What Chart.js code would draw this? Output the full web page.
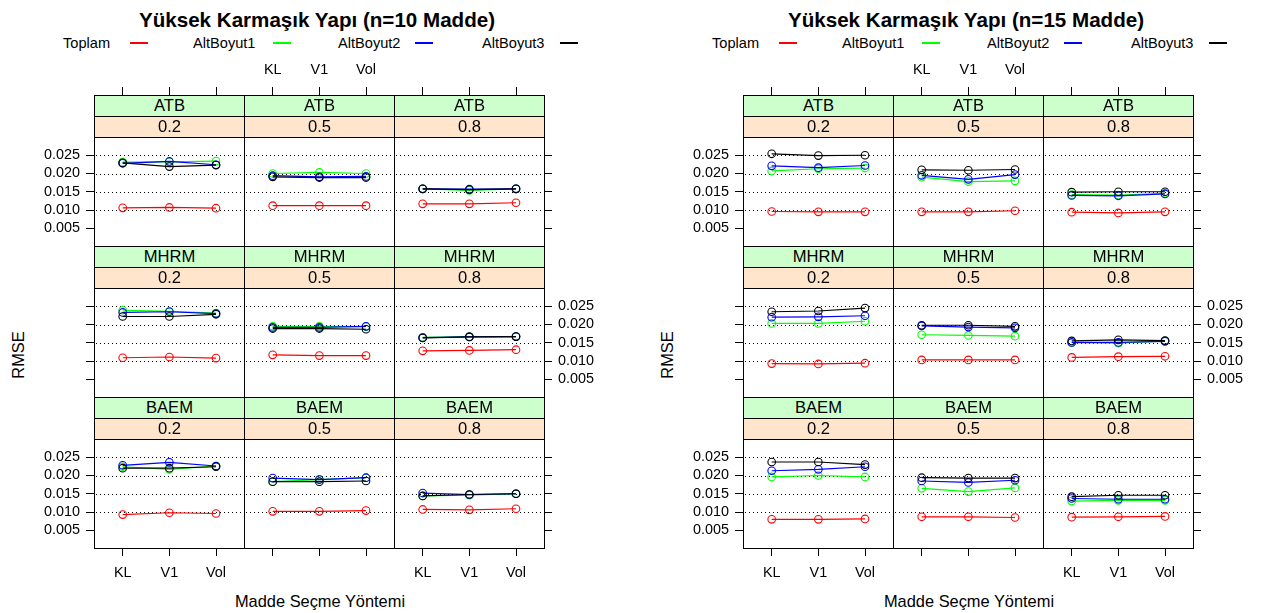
<!DOCTYPE html>
<html>
<head>
<meta charset="utf-8">
<script src="https://cdn.jsdelivr.net/npm/chart.js@4.4.1/dist/chart.umd.min.js"></script>
<style>
  html, body { margin: 0; padding: 0; background: #fff; }
  body { width: 1262px; height: 613px; overflow: hidden; position: relative;
         font-family: "Liberation Sans", Arial, sans-serif; color: #000; }
  canvas.cell { position: absolute; z-index: 1; }
  .txt { position: absolute; white-space: nowrap; transform: translate(-50%, -50%); line-height: 1; }
  .strip { position: absolute; box-sizing: border-box; border-bottom: 1px solid #000;
           text-align: center; z-index: 2; font-size: 16.6px; }
  .keyline { position: absolute; height: 2px; }
</style>
</head>
<body>
<script>
// Categories, panel factors and series
const categories = ['KL', 'V1', 'Vol'];
const methods = ['ATB', 'MHRM', 'BAEM'];
const levels = ['0.2', '0.5', '0.8'];
const seriesNames = ['Toplam', 'AltBoyut1', 'AltBoyut2', 'AltBoyut3'];
const seriesColors = ['#ff0000', '#00ff00', '#0000ff', '#000000'];
const yTickValues = [0.005, 0.010, 0.015, 0.020, 0.025];
const refLineValues = [0.010, 0.015, 0.020, 0.025];

// RMSE per panel (KL, V1, Vol); panels: ATB 0.2/0.5/0.8, MHRM 0.2/0.5/0.8, BAEM 0.2/0.5/0.8
// n = 10 items
const n10_toplam = [
  [0.0106, 0.0107, 0.0105], [0.0112, 0.0112, 0.0112], [0.0117, 0.0117, 0.0120],
  [0.0109, 0.0111, 0.0108], [0.0117, 0.0115, 0.0115], [0.0128, 0.0129, 0.0131],
  [0.0093, 0.0098, 0.0096], [0.0102, 0.0102, 0.0104], [0.0107, 0.0106, 0.0109]
];
const n10_alt1 = [
  [0.0231, 0.0232, 0.0234], [0.0200, 0.0203, 0.0200], [0.0158, 0.0154, 0.0158],
  [0.0239, 0.0236, 0.0231], [0.0195, 0.0195, 0.0194], [0.0165, 0.0167, 0.0167],
  [0.0224, 0.0217, 0.0226], [0.0183, 0.0189, 0.0194], [0.0144, 0.0146, 0.0150]
];
const n10_alt2 = [
  [0.0228, 0.0233, 0.0224], [0.0194, 0.0191, 0.0192], [0.0158, 0.0157, 0.0158],
  [0.0233, 0.0235, 0.0230], [0.0192, 0.0192, 0.0195], [0.0164, 0.0166, 0.0167],
  [0.0228, 0.0236, 0.0226], [0.0193, 0.0189, 0.0194], [0.0152, 0.0148, 0.0150]
];
const n10_alt3 = [
  [0.0229, 0.0219, 0.0223], [0.0191, 0.0189, 0.0189], [0.0158, 0.0156, 0.0158],
  [0.0222, 0.0222, 0.0228], [0.0189, 0.0189, 0.0187], [0.0163, 0.0166, 0.0167],
  [0.0220, 0.0220, 0.0224], [0.0183, 0.0183, 0.0185], [0.0144, 0.0148, 0.0150]
];
// n = 15 items
const n15_toplam = [
  [0.0096, 0.0095, 0.0095], [0.0095, 0.0095, 0.0098], [0.0094, 0.0092, 0.0095],
  [0.0093, 0.0092, 0.0094], [0.0103, 0.0103, 0.0103], [0.0110, 0.0112, 0.0113],
  [0.0080, 0.0080, 0.0081], [0.0087, 0.0087, 0.0085], [0.0086, 0.0087, 0.0088]
];
const n15_alt1 = [
  [0.0207, 0.0213, 0.0215], [0.0190, 0.0178, 0.0180], [0.0142, 0.0141, 0.0146],
  [0.0203, 0.0203, 0.0209], [0.0172, 0.0170, 0.0168], [0.0150, 0.0149, 0.0155],
  [0.0196, 0.0200, 0.0196], [0.0165, 0.0156, 0.0166], [0.0130, 0.0132, 0.0132]
];
const n15_alt2 = [
  [0.0221, 0.0216, 0.0222], [0.0195, 0.0184, 0.0197], [0.0140, 0.0139, 0.0144],
  [0.0220, 0.0221, 0.0224], [0.0196, 0.0193, 0.0191], [0.0151, 0.0151, 0.0154],
  [0.0213, 0.0217, 0.0224], [0.0185, 0.0181, 0.0187], [0.0137, 0.0135, 0.0135]
];
const n15_alt3 = [
  [0.0254, 0.0249, 0.0250], [0.0210, 0.0209, 0.0211], [0.0149, 0.0150, 0.0150],
  [0.0235, 0.0237, 0.0245], [0.0198, 0.0198, 0.0195], [0.0155, 0.0158, 0.0156],
  [0.0237, 0.0237, 0.0230], [0.0194, 0.0193, 0.0193], [0.0142, 0.0146, 0.0146]
];

const figures = [
  { x0: 94,  title: 'Yüksek Karmaşık Yapı (n=10 Madde)', series: [n10_toplam, n10_alt1, n10_alt2, n10_alt3] },
  { x0: 743, title: 'Yüksek Karmaşık Yapı (n=15 Madde)', series: [n15_toplam, n15_alt1, n15_alt2, n15_alt3] }
];

// Panel geometry
const CW = 150, CH = 151, Y0 = 95, STRIP = 21;
const ML = 70, MR = 70, MT = 40, MB = 45;
const X_MIN = -0.615, X_MAX = 2.6;
const Y_MIN = 0.00015, Y_MAX = 0.0415;
const FONT = '"Liberation Sans", Arial, sans-serif';
const tickFont = { family: FONT, size: 14.4 };
// key: text start and line start, relative to the figure's left panel edge
const keyTextX = [-31, 99, 244, 388];
const keyLineX = [36, 179, 321, 466];

Chart.defaults.font.family = FONT;

const refLinePlugin = {
  id: 'refLines',
  beforeDatasetsDraw(chart) {
    const { ctx, chartArea, scales } = chart;
    const y = scales.y;
    ctx.save();
    ctx.setLineDash([1, 3]);
    ctx.strokeStyle = '#000';
    ctx.lineWidth = 1;
    refLineValues.forEach(v => {
      const py = Math.round(y.getPixelForValue(v)) + 0.5;
      ctx.beginPath();
      ctx.moveTo(chartArea.left + 2, py);
      ctx.lineTo(chartArea.right - 1, py);
      ctx.stroke();
    });
    ctx.restore();
  }
};

function xAxis(position, ticksOn, labelsOn, size) {
  return {
    type: 'linear', position, min: X_MIN, max: X_MAX,
    afterBuildTicks: s => { s.ticks = categories.map((_, i) => ({ value: i })); },
    afterFit: s => { s.height = size; },
    grid: { display: true, drawOnChartArea: false, drawTicks: ticksOn, tickLength: 8, tickColor: '#000', tickWidth: 1 },
    border: { display: true, color: '#000', width: 1 },
    ticks: { display: labelsOn, autoSkip: false, maxRotation: 0, minRotation: 0, padding: 8, color: '#000', font: tickFont,
             callback: v => categories[v] }
  };
}

function yAxis(position, ticksOn, labelsOn, size) {
  return {
    type: 'linear', position, min: Y_MIN, max: Y_MAX,
    afterBuildTicks: s => { s.ticks = yTickValues.map(v => ({ value: v })); },
    afterFit: s => { s.width = size; },
    grid: { display: true, drawOnChartArea: false, drawTicks: ticksOn, tickLength: 8, tickColor: '#000', tickWidth: 1 },
    border: { display: true, color: '#000', width: 1 },
    ticks: { display: labelsOn, autoSkip: false, padding: 6, color: '#000', font: tickFont,
             callback: v => v.toFixed(3) }
  };
}

function addText(text, cx, cy, size, extra) {
  const d = document.createElement('div');
  d.className = 'txt';
  d.textContent = text;
  d.style.left = cx + 'px';
  d.style.top = cy + 'px';
  d.style.fontSize = size + 'px';
  if (extra) Object.assign(d.style, extra);
  document.body.appendChild(d);
  return d;
}

function makePanel(fig, r, c) {
  const L = fig.x0 + c * CW, T = Y0 + r * CH;
  const canvas = document.createElement('canvas');
  canvas.className = 'cell';
  canvas.width = CW + ML + MR;
  canvas.height = CH + MT + MB;
  canvas.style.left = (L - ML) + 'px';
  canvas.style.top = (T - MT) + 'px';
  document.body.appendChild(canvas);

  const idx = r * 3 + c;
  new Chart(canvas, {
    type: 'line',
    data: {
      datasets: seriesNames.map((name, s) => ({
        label: name,
        data: fig.series[s][idx].map((v, i) => ({ x: i, y: v })),
        borderColor: seriesColors[s],
        backgroundColor: 'transparent',
        borderWidth: 1.2,
        pointRadius: 3.8,
        pointBorderWidth: 1.1,
        pointBackgroundColor: 'transparent',
        pointBorderColor: seriesColors[s],
        fill: false,
        tension: 0,
        order: 3 - s,
        clip: false,
        xAxisID: 'x',
        yAxisID: 'y'
      }))
    },
    options: {
      responsive: false,
      animation: false,
      devicePixelRatio: 1,
      events: [],
      layout: { padding: 0 },
      plugins: { legend: { display: false }, tooltip: { enabled: false } },
      scales: {
        x: xAxis('bottom', r === 2, r === 2 && c !== 1, MB),
        x2: xAxis('top', r === 0, r === 0 && c === 1, MT),
        y: yAxis('left', c === 0, c === 0 && r !== 1, ML),
        y2: yAxis('right', c === 2, c === 2 && r === 1, MR)
      }
    },
    plugins: [refLinePlugin]
  });

  // strips: method on top, level below
  const s1 = document.createElement('div');
  s1.className = 'strip';
  Object.assign(s1.style, { left: (L + 1) + 'px', top: (T + 1) + 'px', width: (CW - 1) + 'px', height: STRIP + 'px',
                            background: '#ccffcc', lineHeight: (STRIP - 1) + 'px' });
  s1.textContent = methods[r];
  document.body.appendChild(s1);
  const s2 = document.createElement('div');
  s2.className = 'strip';
  Object.assign(s2.style, { left: (L + 1) + 'px', top: (T + 1 + STRIP) + 'px', width: (CW - 1) + 'px', height: STRIP + 'px',
                            background: '#ffe5cc', lineHeight: (STRIP - 1) + 'px' });
  s2.textContent = levels[c];
  document.body.appendChild(s2);
}

figures.forEach(fig => {
  for (let r = 0; r < 3; r++) for (let c = 0; c < 3; c++) makePanel(fig, r, c);

  // title
  addText(fig.title, fig.x0 + 223, 20, 20.6, { fontWeight: 'bold' });
  // key
  seriesNames.forEach((name, s) => {
    const t = document.createElement('div');
    t.className = 'txt';
    t.textContent = name;
    Object.assign(t.style, { left: (fig.x0 + keyTextX[s]) + 'px', top: '43px', fontSize: '14.6px', transform: 'translate(0,-50%)' });
    document.body.appendChild(t);
    const ln = document.createElement('div');
    ln.className = 'keyline';
    Object.assign(ln.style, { left: (fig.x0 + keyLineX[s]) + 'px', top: '42px', width: '18px', background: seriesColors[s] });
    document.body.appendChild(ln);
  });
  // axis titles
  addText('RMSE', fig.x0 - 76, 355, 16.4, { transform: 'translate(-50%,-50%) rotate(-90deg)' });
  addText('Madde Seçme Yöntemi', fig.x0 + 226, 601, 16.4);
});
</script>
</body>
</html>
